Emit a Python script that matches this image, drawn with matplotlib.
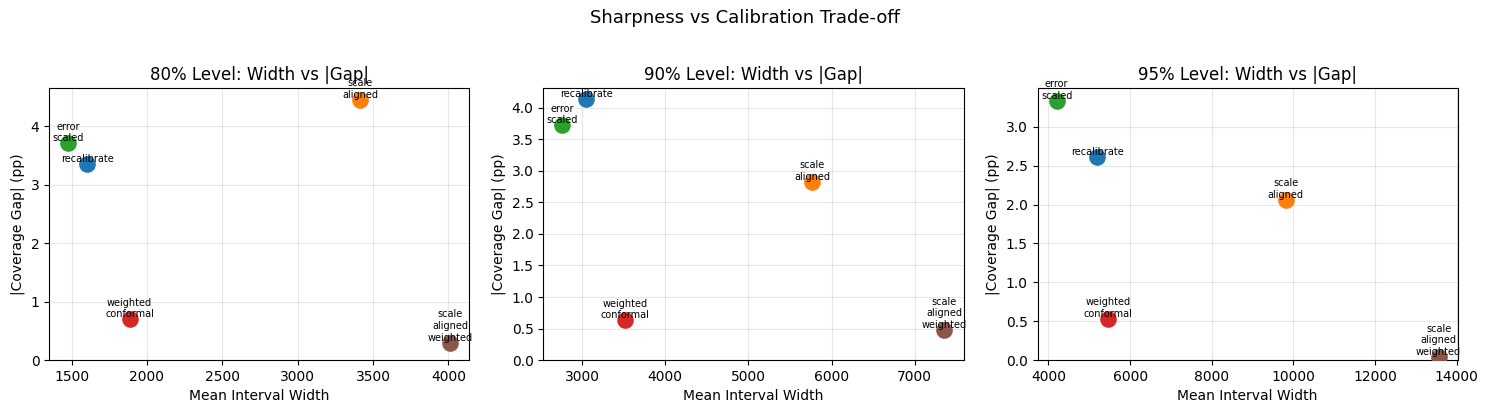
import matplotlib
matplotlib.use("Agg")
import matplotlib.pyplot as plt

levels = ["80%", "90%", "95%"]
methods = ["recalibrate", "scale_aligned", "error_scaled", "weighted_conformal", "scale_aligned_weighted"]
method_colors = ["C0", "C1", "C2", "C3", "C5"]

# mean interval width per method, one list per level
width_80 = [1603, 3415, 1478, 1885, 4012]
width_90 = [3052, 5764, 2764, 3520, 7356]
width_95 = [5198, 9811, 4200, 5467, 13555]

# absolute coverage gap (pp)
gap_80 = [3.35, 4.45, 3.71, 0.70, 0.30]
gap_90 = [4.13, 2.83, 3.72, 0.63, 0.48]
gap_95 = [2.61, 2.06, 3.335, 0.53, 0.04]

widths = [width_80, width_90, width_95]
gaps = [gap_80, gap_90, gap_95]


def main():
    fig, axes = plt.subplots(1, 3, figsize=(14.89, 4.13), dpi=100)

    for ax, lev, w, g in zip(axes, levels, widths, gaps):
        for m, c, x, y in zip(methods, method_colors, w, g):
            ax.scatter(x, y, s=120, color=c, zorder=3)
            ax.annotate(m.replace("_", "\n"), (x, y), textcoords="offset points",
                        xytext=(0, 0), ha="center", va="bottom", fontsize=7)
        ax.set_xlabel("Mean Interval Width")
        ax.set_ylabel("|Coverage Gap| (pp)")
        ax.set_title(f"{lev} Level: Width vs |Gap|")
        ax.grid(True, alpha=0.3)
        ax.set_ylim(bottom=0)

    fig.suptitle("Sharpness vs Calibration Trade-off", fontsize=13, y=0.956, va="center")
    fig.subplots_adjust(left=0.033, right=0.979, top=0.787, bottom=0.128, wspace=0.176)
    plt.savefig("out.png")


if __name__ == '__main__':
    main()
